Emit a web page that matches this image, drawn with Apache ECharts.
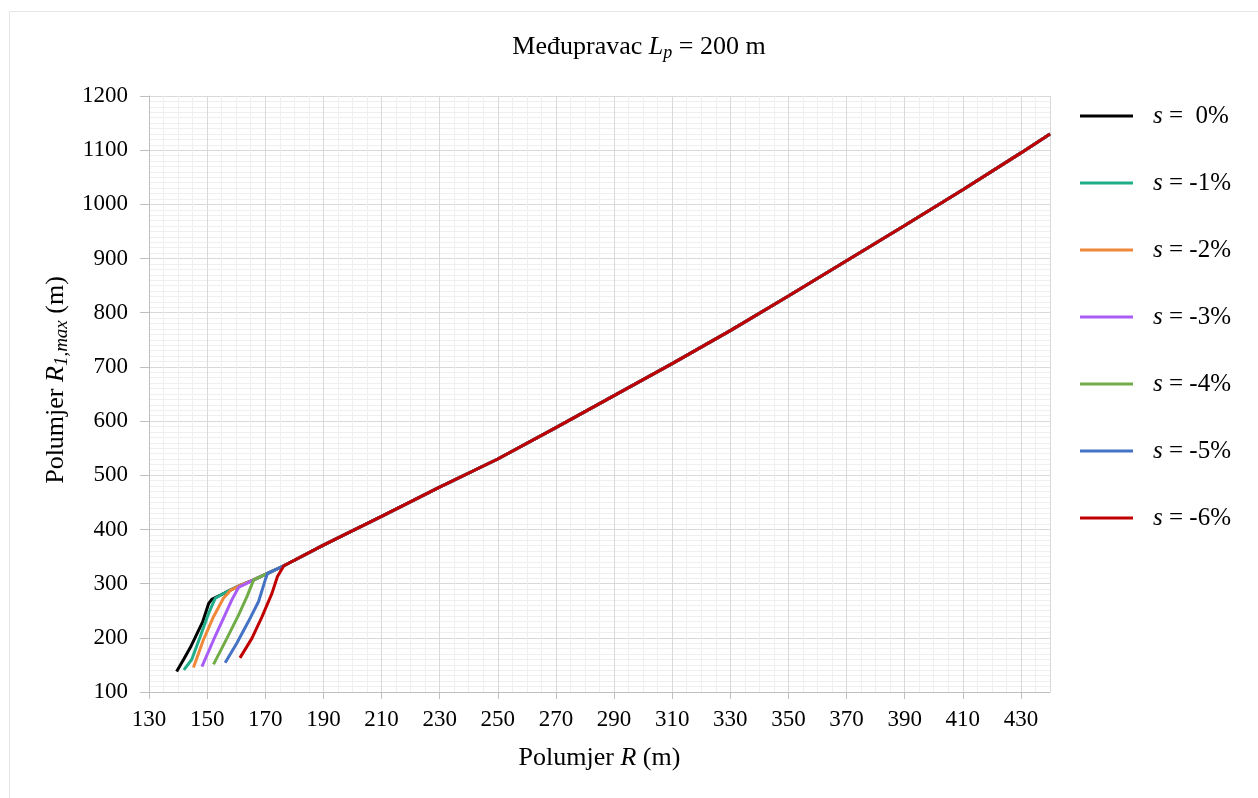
<!DOCTYPE html>
<html>
<head>
<meta charset="utf-8">
<script src="https://cdn.jsdelivr.net/npm/echarts@6/dist/echarts.min.js"></script>
<style>
  html, body { margin: 0; padding: 0; background: #fff; }
  #chart { width: 1258px; height: 798px; }
</style>
</head>
<body>
<div id="chart"></div>
<script>
// Grade values shown in the legend
const seriesNames = ['s =  0%', 's = -1%', 's = -2%', 's = -3%', 's = -4%', 's = -5%', 's = -6%'];
const seriesColors = ['#000000', '#1fae88', '#f0883a', '#a95cf6', '#70ad47', '#4472c4', '#c00000'];

// Steep lower branch of each curve [R, R1,max], ending where it meets the common line
const branch0 = [[139.5, 138], [142.0, 161], [144.5, 185], [148.5, 230], [150.5, 263], [151.6, 271]];
const branch1 = [[142.0, 141], [144.7, 160], [147.6, 202], [150.5, 245], [152.8, 273], [155.0, 280]];
const branch2 = [[145.3, 145], [148.7, 196], [152.2, 239], [155.6, 273], [157.9, 287], [158.3, 289]];
const branch3 = [[148.2, 147], [152.2, 196], [155.6, 236], [158.5, 270], [160.8, 293], [161.0, 296]];
const branch4 = [[152.2, 151], [156.8, 199], [160.8, 242], [163.7, 276], [166.0, 307]];
const branch5 = [[156.2, 154], [160.2, 190], [164.2, 230], [167.7, 267], [170.0, 307], [170.8, 319]];
const branch6 = [[161.3, 163], [165.4, 199], [168.9, 239], [172.3, 282], [174.2, 313], [176.4, 333]];
const branches = [branch0, branch1, branch2, branch3, branch4, branch5, branch6];

// Common upper line shared by all grades
const commonLine = [
  [151.6, 271], [155.0, 280], [158.3, 289], [161.0, 296], [166.0, 307], [170.8, 319], [176.4, 333],
  [190, 371], [210, 424], [230, 478], [250, 530], [270, 588], [290, 647], [310, 706],
  [330, 767], [350, 831], [370, 896], [390, 961], [410, 1027], [430, 1095], [440, 1130]
];

// Axis ranges and tick steps
const xRange = [130, 440];
const xStep = 20;
const yRange = [100, 1200];
const yStep = 100;

const serif = 'Liberation Serif, Times New Roman, serif';

function curveData(branch) {
  const endR = branch[branch.length - 1][0];
  return branch.concat(commonLine.filter(p => p[0] > endR));
}

const series = seriesNames.map((name, i) => ({
  name: name,
  type: 'line',
  data: curveData(branches[i]),
  showSymbol: false,
  symbol: 'none',
  smooth: false,
  color: seriesColors[i],
  lineStyle: { width: 3, color: seriesColors[i] },
  z: 2 + i,
  animation: false
}));

const legendCenter0 = 116, legendStep = 67;
const legends = seriesNames.map((name, i) => ({
  data: [name],
  left: 1080,
  top: legendCenter0 + i * legendStep - 14,
  padding: 0,
  icon: 'rect',
  itemWidth: 53,
  itemHeight: 3,
  selectedMode: false,
  formatter: n => '{i|s}' + n.slice(1),
  textStyle: {
    fontFamily: serif, fontSize: 25, color: '#000', lineHeight: 28,
    padding: [0, 0, 0, 15],
    rich: { i: { fontFamily: serif, fontSize: 25, fontStyle: 'italic', color: '#000', lineHeight: 28 } }
  }
}));

const axisGray = '#bfbfbf';

const option = {
  backgroundColor: '#ffffff',
  animation: false,
  grid: { left: 149, right: 208, top: 96, bottom: 106, containLabel: false },
  legend: legends,
  xAxis: {
    type: 'value',
    min: xRange[0], max: xRange[1], interval: xStep,
    name: 'Polumjer {i|R} (m)',
    nameLocation: 'middle',
    nameGap: 53,
    nameTextStyle: {
      fontFamily: serif, fontSize: 26, color: '#000',
      rich: { i: { fontFamily: serif, fontSize: 26, fontStyle: 'italic', color: '#000' } }
    },
    axisLine: { show: true, lineStyle: { color: axisGray, width: 1 } },
    axisTick: { show: true, length: 7, lineStyle: { color: axisGray } },
    axisLabel: { fontFamily: serif, fontSize: 23, color: '#000', margin: 16, showMaxLabel: false },
    splitLine: { show: true, lineStyle: { color: '#d9d9d9', width: 1 } },
    minorTick: { show: false, splitNumber: 4 },
    minorSplitLine: { show: true, lineStyle: { color: '#efefef', width: 1 } }
  },
  yAxis: {
    type: 'value',
    min: yRange[0], max: yRange[1], interval: yStep,
    name: 'Polumjer {i|R}{s|1,max} (m)',
    nameLocation: 'middle',
    nameRotate: 90,
    nameGap: 78,
    nameTextStyle: {
      fontFamily: serif, fontSize: 26, color: '#000', lineHeight: 30,
      padding: [0, 0, 0, 28],
      rich: {
        i: { fontFamily: serif, fontSize: 26, fontStyle: 'italic', color: '#000', lineHeight: 30 },
        s: { fontFamily: serif, fontSize: 19, fontStyle: 'italic', color: '#000', lineHeight: 19, verticalAlign: 'bottom' }
      }
    },
    axisLine: { show: true, lineStyle: { color: axisGray, width: 1 } },
    axisTick: { show: true, length: 9, lineStyle: { color: axisGray } },
    axisLabel: { fontFamily: serif, fontSize: 23, color: '#000', margin: 21, formatter: v => String(v) },
    splitLine: { show: true, lineStyle: { color: '#d9d9d9', width: 1 } },
    minorTick: { show: false, splitNumber: 10 },
    minorSplitLine: { show: true, lineStyle: { color: '#efefef', width: 1 } }
  },
  graphic: [
    {
      type: 'rect',
      shape: { x: 9.5, y: 11.5, width: 1400, height: 1000 },
      style: { fill: 'none', stroke: '#e6e6e6', lineWidth: 1 },
      silent: true, z: -10
    },
    {
      type: 'text',
      x: 639, y: 47,
      style: {
        text: '{n|Međupravac }{i|L}{s|p}{n| = 200 m}',
        align: 'center', verticalAlign: 'middle',
        rich: {
          n: { fontFamily: serif, fontSize: 26, color: '#000', lineHeight: 30 },
          i: { fontFamily: serif, fontSize: 26, fontStyle: 'italic', color: '#000', lineHeight: 30 },
          s: { fontFamily: serif, fontSize: 18, fontStyle: 'italic', color: '#000', lineHeight: 18, verticalAlign: 'bottom' }
        }
      },
      silent: true
    }
  ],
  series: series
};

const chart = echarts.init(document.getElementById('chart'), null, { renderer: 'canvas' });
chart.setOption(option);
</script>
</body>
</html>
